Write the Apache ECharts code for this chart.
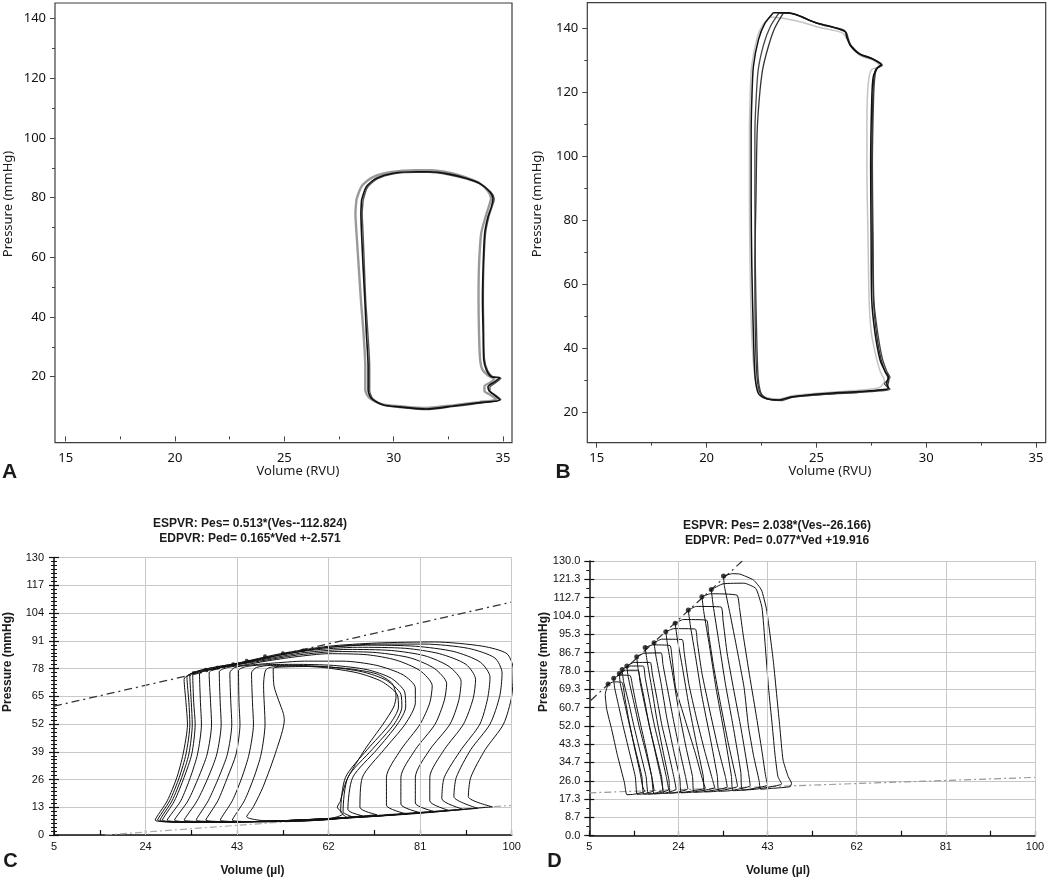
<!DOCTYPE html>
<html>
<head>
<meta charset="utf-8">
<script src="https://cdn.jsdelivr.net/npm/echarts@6/dist/echarts.min.js"></script>
<style>
html, body { margin: 0; padding: 0; background: #fff; }
#chart { width: 1050px; height: 879px; }
</style>
</head>
<body>
<div id="chart"></div>
<script>
// ---- panel A: overlapping beats, volume (RVU) vs pressure (mmHg)
const loopA1 = [[28.53,79.2],[28.75,83.7],[29.21,86.5],[29.97,88.2],[31.04,88.7],[31.65,88.7],[32.56,87.9],[33.32,86.5],[33.93,84.8],[34.39,82.0],[34.54,79.8],[34.47,77.0],[34.31,73.6],[34.16,68.0],[34.09,56.9],[34.06,45.7],[34.09,34.5],[34.12,25.6],[34.24,22.2],[34.47,20.0],[34.85,19.7],[34.62,18.3],[34.31,16.6],[34.36,15.3],[34.54,14.2],[34.85,12.2],[33.93,11.3],[32.71,10.2],[31.5,9.2],[30.28,9.9],[29.52,10.5],[28.98,12.7],[28.83,15.5],[28.83,23.4],[28.75,34.5],[28.68,45.7],[28.6,56.9],[28.53,68.0],[28.5,74.7],[28.53,79.2]];
const loopA2 = [[28.3,79.5],[28.55,84],[29.05,86.9],[29.9,88.6],[31.0,89.2],[31.7,89.2],[32.6,88.3],[33.3,86.8],[33.9,85],[34.3,82.3],[34.45,79.8],[34.35,77],[34.2,73.6],[34.0,68],[33.9,57],[33.88,46],[33.9,35],[33.95,26],[34.05,22.5],[34.3,20.5],[34.6,19.2],[34.4,18],[34.15,16.8],[34.15,15.2],[34.4,14],[34.7,12.4],[33.9,11.5],[32.7,10.4],[31.5,9.5],[30.3,10.1],[29.5,10.7],[28.9,12.8],[28.7,15.5],[28.7,23.4],[28.62,34.5],[28.5,45.7],[28.4,56.9],[28.3,68],[28.25,74.7],[28.3,79.5]];
const loopA3 = [[28.6,79],[28.8,83.5],[29.25,86.3],[30,88],[31.05,88.5],[31.6,88.5],[32.5,87.7],[33.3,86.3],[33.95,84.6],[34.45,81.8],[34.6,79.6],[34.5,77],[34.35,73.6],[34.2,68],[34.12,57],[34.1,46],[34.12,35],[34.15,26],[34.3,22],[34.55,19.9],[34.9,19.5],[34.7,18.2],[34.4,16.4],[34.4,15.2],[34.6,14.1],[34.9,12.3],[34,11.2],[32.7,10],[31.5,9],[30.3,9.7],[29.6,10.4],[29.05,12.6],[28.9,15.5],[28.9,23.4],[28.82,34.5],[28.72,45.7],[28.66,56.9],[28.6,68],[28.56,74.7],[28.6,79]];

// ---- panel B
const loopB1 = [[23.04,144.9],[23.73,144.9],[24.33,143.6],[24.94,141.8],[25.7,140.5],[26.31,139.0],[26.38,137.4],[26.53,134.8],[26.91,132.2],[27.52,130.6],[27.97,128.6],[27.82,128.0],[27.59,124.9],[27.52,117.6],[27.47,96.8],[27.49,76.0],[27.52,55.2],[27.67,44.8],[27.9,36.4],[28.13,32.8],[28.28,31.2],[28.2,29.2],[28.28,27.6],[27.82,27.1],[26.91,26.6],[25.39,26.0],[23.88,25.0],[23.27,24.0],[22.66,24.5],[22.36,26.0],[22.21,31.2],[22.13,44.8],[22.06,65.6],[22.03,86.4],[22.03,107.2],[22.06,117.6],[22.13,128.0],[22.36,136.4],[22.66,141.6],[23.04,144.9]];
const loopB2 = [[23.3,144.8],[23.9,144.6],[24.5,143],[25.1,141.5],[25.8,140.3],[26.3,139.2],[26.4,137],[26.6,134.5],[27,132],[27.6,130.4],[28.0,128.5],[27.75,127.5],[27.65,124],[27.6,117],[27.55,97],[27.58,76],[27.62,55],[27.8,44.5],[28.0,37],[28.2,33],[28.35,31],[28.1,29],[28.35,27.3],[27.9,26.8],[26.9,26.3],[25.4,25.7],[23.9,24.8],[23.4,23.8],[22.8,24.2],[22.5,25.8],[22.35,31],[22.28,45],[22.22,66],[22.2,87],[22.2,107],[22.25,117],[22.35,127],[22.6,135],[22.9,140.5],[23.3,144.8]];
const loopB3 = [[22.9,143.5],[23.6,143],[24.3,142],[25,140.5],[25.7,139.5],[26.2,138.5],[26.4,136.5],[26.6,134],[27,131.5],[27.6,130],[27.9,128.2],[27.5,127],[27.35,122],[27.3,110],[27.3,96],[27.35,75],[27.4,55],[27.5,45],[27.7,38],[27.9,33],[28.1,30],[27.9,28],[27.4,27.3],[26.9,27],[25.4,26.3],[23.9,25.3],[23.3,24.3],[22.7,24.8],[22.4,26.5],[22.2,31],[22.05,45],[21.98,66],[21.95,87],[21.95,107],[21.98,118],[22.05,128],[22.3,137],[22.55,141],[22.9,143.5]];
const loopB4 = [[23.5,144.8],[24.1,144.3],[24.7,142.5],[25.3,141],[25.9,140],[26.35,138.8],[26.45,136.8],[26.6,134.2],[27,131.8],[27.6,130.2],[27.95,128.4],[27.7,127.2],[27.6,123],[27.55,113],[27.52,96],[27.55,76],[27.6,55],[27.75,44],[27.95,36.5],[28.15,32.5],[28.3,30.2],[28.25,28.5],[28.3,27.5],[27.85,27],[26.9,26.4],[25.4,25.8],[23.9,24.9],[23.35,23.9],[22.75,24.4],[22.45,26],[22.3,31],[22.22,45],[22.2,66],[22.25,87],[22.3,107],[22.4,118],[22.55,127],[22.8,134],[23.1,140],[23.5,144.8]];

const abXTicks = [15, 20, 25, 30, 35];
const abXMinor = [17.5, 22.5, 27.5, 32.5];
const abYTicks = [20, 40, 60, 80, 100, 120, 140];
const abYMinor = [30, 50, 70, 90, 110, 130];

// ---- panel C: occlusion run, volume (µl) vs pressure (mmHg)
const loopC1 = [[96,13.2],[91,18],[91.5,27],[94.5,40],[98.3,52],[100,65],[100.3,78],[99,85],[94,88.5],[84,90.5],[72,90],[62,88.5],[52,85],[43,80.5],[35,77],[32,73],[32.4,62],[32.7,52],[31.8,38],[30.5,27],[28.5,16],[26,7],[32,6],[50,6.5],[68,8.5],[84,11],[96,13.2]];
const loopC2 = [[93,12.5],[88,18],[88.5,27],[91.5,40],[95.5,52],[97.5,65],[98,76],[96.5,83],[91,87.5],[82,89.5],[72,89.5],[62,88],[52,84.5],[43,80.5],[36,77.5],[32.6,74],[33,62],[33.2,52],[32.4,38],[31,27],[29,16],[26.5,7],[33,6],[50,6.5],[68,8.5],[82,10.5],[93,12.5]];
const loopC3 = [[90,12],[85.5,17],[86,27],[89.5,40],[93.4,52],[95,64],[95.5,74],[93.5,81],[88,86],[80,88.5],[70,89],[60,87.5],[51,84],[43,80],[36.5,77],[33.2,74.5],[33.5,62],[33.7,52],[33,38],[31.5,27],[29.5,16],[27,7],[34,6],[50,6.5],[66,8],[80,10],[90,12]];
const loopC4 = [[87,11.5],[83,16],[83,27],[86,40],[90,52],[92,64],[92.5,73],[90.5,80],[85,85],[78,87.5],[68,88],[58,86.5],[50,83.5],[43,80],[37,77.5],[33.8,75],[34,62],[34.3,52],[33.6,38],[32,27],[30,16],[27.5,7],[35,6],[50,6.5],[65,8],[78,10],[87,11.5]];
const loopC5 = [[84,11],[80,15],[80,27],[83,40],[87.2,52],[89,63],[89.5,72],[87,79],[82,84],[75,86.5],[66,87],[57,85.5],[49,82.5],[43,80],[38.5,78],[35.2,75.5],[35.4,62],[35.6,52],[34.8,38],[33.3,27],[31.3,16],[28.5,7],[36,6],[50,6.5],[64,7.8],[76,9.5],[84,11]];
const loopC6 = [[81,10.5],[77,14.5],[77,27],[80,40],[84.1,52],[86,63],[86.5,71],[84,78],[79,83],[72,85.5],[64,86],[56,84.5],[49,82],[43,79.8],[39.5,78.5],[37.2,76],[37.5,62],[37.7,52],[36.8,38],[35,27],[32.8,16],[30,7],[38,6],[50,6.5],[63,7.8],[74,9.2],[81,10.5]];
const loopC7 = [[78,10],[74,14],[74,27],[77,40],[81,52],[83,62],[83.5,70],[81,77],[76,82],[70,84.5],[62,85],[55,83.5],[49,81.5],[44,79.5],[41,78.5],[39.3,76.5],[39.5,62],[39.7,52],[38.8,38],[37,27],[34.7,16],[32,7],[40,6.2],[52,6.5],[63,7.6],[72,8.8],[78,10]];
const loopC8 = [[72,9.5],[68.5,13],[69,27],[73.5,40],[77.9,52],[80,62],[80,69],[77.5,75],[72,79.5],[65,81.5],[57,81.5],[50,80.5],[45,79.5],[42.5,78.5],[41.5,76],[41.7,62],[41.9,52],[41,38],[39.2,27],[37,16],[34.5,7],[42,6.2],[52,6.5],[62,7.5],[72,9.5]];
const loopC9 = [[69,9],[66,12],[67,27],[72,40],[76.3,52],[78,60],[77.8,67],[75,73.5],[70,77.5],[63,79.5],[55,80],[49,79.8],[45,79],[43.3,77],[43.4,62],[43.6,52],[42.8,38],[41,27],[39,16],[36.5,7],[44,6.2],[54,6.5],[62,7.3],[69,9]];
const loopC10 = [[67,8.5],[65,11],[66,27],[71,40],[75.6,52],[77.2,60],[77,66],[74,72.5],[69,76.5],[62,78.8],[55,79.5],[50,79.5],[47,78.5],[46,76],[46.2,62],[46.4,52],[45.5,38],[44,27],[42,16],[39.5,7],[46,6.2],[55,6.5],[62,7.3],[67,8.5]];
const loopC11 = [[66,8],[64.5,11],[65.5,27],[70,40],[74.7,52],[76.5,60],[76.2,66],[73,72],[68,76],[61,78.5],[55,79.2],[51,79],[49,77.5],[48.5,70],[48.8,52],[48,38],[46.5,27],[44.5,16],[42,7],[48,6.2],[56,6.5],[62,7.2],[66,8]];
const loopC12 = [[64.4,15.6],[65.8,26],[69.5,40],[73.3,52],[75.5,60],[76,65],[75.2,71],[72,75.5],[66,78],[59,79],[53,78.8],[50.5,78],[50.7,69.5],[52.6,57],[52.8,54],[51.2,40],[48.4,22.6],[46.4,13.3],[45,8.6],[50,6.5],[57,6.6],[62,7.5],[65,10],[63.8,13],[64.4,15.6]];
const loopsC = [loopC1, loopC2, loopC3, loopC4, loopC5, loopC6, loopC7, loopC8, loopC9, loopC10, loopC11, loopC12];
const espvrC = [[5, 60.4], [100, 109.2]];
const edpvrC = [[15.6, 0], [100, 13.9]];
const esDotsC = [[34,76],[36.5,77.5],[39,78.5],[42.2,80],[45,81.7],[48.8,83.8],[52.5,85.2],[56.7,86.5]];

// ---- panel D
const loopD1 = [[9.0,71.8],[10.2,72.8],[12,72.5],[12.6,65],[13.4,55],[14.6,42],[15.8,30],[16.4,23],[16.8,21],[14.5,19.6],[13,19.4],[12.5,25],[11,38],[9.8,50],[8.7,60],[8.4,67],[9.0,71.8]];
const loopD2 = [[10.2,74.5],[11.5,76],[13.7,75.8],[14.2,71],[15,62],[16,52],[17.2,40],[18.3,28],[18.8,21.4],[16.5,19.8],[15.2,19.6],[14.8,28],[13.5,40],[12.2,52],[11.2,62],[10.4,70],[10.2,74.5]];
const loopD3 = [[11.4,76.8],[12.7,78.3],[15.4,78.3],[15.8,73],[16.8,62],[17.8,52],[19,40],[20.2,28],[20.7,21.6],[18.5,19.9],[16.6,19.6],[16.2,28],[14.9,40],[13.6,52],[12.6,62],[11.6,72],[11.4,76.8]];
const loopD4 = [[12.0,78.7],[13.4,80.3],[16.5,80.3],[16.9,75],[17.9,63],[18.9,52],[20.2,40],[21.4,28],[21.9,21.8],[19.5,20],[17.6,19.7],[17.1,28],[15.8,40],[14.5,52],[13.5,62],[12.3,73],[12.0,78.7]];
const loopD5 = [[13,80.3],[14.5,82],[18,82],[18.4,77],[19.5,64],[20.5,52],[21.8,40],[23,28],[23.5,22],[21,20.1],[18.8,19.8],[18.3,28],[17,40],[15.6,52],[14.5,63],[13.3,75],[13,80.3]];
const loopD6 = [[15.1,84.7],[16.6,86.3],[20.3,86.5],[20.7,81],[21.8,68],[23,54],[24.3,40],[25.5,28],[26,22.2],[23,20.3],[20.9,20],[20.4,28],[19.1,40],[17.8,52],[16.6,66],[15.4,79],[15.1,84.7]];
const loopD7 = [[16.9,89.1],[18.5,90.3],[22.2,90],[22.6,85],[23.4,70],[25.4,55],[27.6,39],[29.2,26],[29.7,22.6],[25,20.5],[22.2,20.2],[22,26],[20.8,39],[19.4,55],[18.3,70],[17.3,83],[16.9,89.1]];
const loopD8 = [[18.8,91.3],[20.4,93],[24.8,92.8],[25.2,87],[26.2,72],[27.8,56],[29.6,40],[31.2,27],[31.7,22.8],[27,20.6],[24.6,20.3],[24.3,27],[23,40],[21.5,56],[20.3,72],[19.2,85],[18.8,91.3]];
const loopD9 = [[21.3,96.5],[23,98],[27.6,97.8],[28,92],[29,77],[30.6,60],[32.4,42],[34,28],[34.4,23.1],[29.5,20.8],[27.3,20.5],[27,28],[25.6,42],[24,60],[22.8,76],[21.7,90],[21.3,96.5]];
const loopD10 = [[23.3,100.5],[25,102.3],[30,102],[30.4,96],[31.5,80],[33,62],[34.6,44],[36.2,28],[36.6,23.4],[32,21],[29.6,20.7],[29.3,28],[27.8,44],[26.2,62],[24.9,79],[23.7,94],[23.3,100.5]];
const loopD11 = [[26.1,106.8],[27.8,108.5],[33.1,108.2],[33.5,102],[34.4,86],[35.7,70],[37.4,50],[38.9,30],[39.3,23.7],[35,21.3],[32.6,21],[32.3,28],[30.8,46],[29,66],[27.7,84],[26.5,100],[26.1,106.8]];
const loopD12 = [[29,113.1],[30.8,114.5],[36.5,113.8],[37,108],[37.8,95],[39,78],[40.5,58],[41.8,40],[42.6,28],[43,24],[38,21.6],[35.6,21.3],[35.3,28],[33.8,48],[32,70],[30.6,90],[29.4,106],[29,113.1]];
const loopD13 = [[31,116.5],[33.5,119.2],[38,119.5],[40.5,117],[41.8,108],[42.5,90],[43.2,70],[44,52],[44.6,38],[45.2,28],[46,24.5],[40.5,22],[37.6,21.6],[37.3,30],[35.8,50],[34,72],[32.6,92],[31.4,109],[31,116.5]];
const loopD14 = [[33.6,122.9],[35.5,124],[37.1,123.8],[40,121],[41.7,116.3],[42.8,106.8],[44.2,83.1],[45.6,51.6],[46.3,35.8],[47.4,27.9],[48.1,24.9],[47.8,23.2],[44,22.4],[41.5,22],[41.2,26],[40,38],[38.9,52],[38,70],[36.5,88],[35,105],[33.8,118],[33.6,122.9]];
const loopsD = [loopD1, loopD2, loopD3, loopD4, loopD5, loopD6, loopD7, loopD8, loopD9, loopD10, loopD11, loopD12, loopD13, loopD14];
const espvrD = [[5.3, 64], [37.6, 130]];
const edpvrD = [[5, 20.3], [100, 27.6]];
const esDotsD = [[9.0,71.8],[10.2,74.5],[11.4,76.8],[12.0,78.7],[13.0,80.3],[15.1,84.7],[16.9,89.1],[18.8,91.3],[21.3,96.5],[23.3,100.5],[26.1,106.8],[29.0,113.1],[31.0,116.5],[33.6,122.9]];

const cdXLabels = [5, 24, 43, 62, 81, 100];
const cdXTicks = [5, 14.5, 24, 33.5, 43, 52.5, 62, 71.5, 81, 90.5, 100];
const cdXGrid = [24, 43, 62, 81, 100];
const cYStep = 13;
const dYTicks = [0, 8.667, 17.333, 26, 34.667, 43.333, 52, 60.667, 69.333, 78, 86.667, 95.333, 104, 112.667, 121.333, 130];

const chart = echarts.init(document.getElementById('chart'));

const trace = (data, xi, yi, color, width, z, smooth) => ({
  type: 'line', data, xAxisIndex: xi, yAxisIndex: yi, symbol: 'none', showSymbol: false,
  smooth: smooth == null ? 0.25 : smooth, silent: true, clip: false, z: z || 3, lineStyle: { color, width }
});

const abLabel = { fontFamily: 'Noto Sans', fontSize: 13, color: '#111' };
const cdLabel = { fontFamily: 'Liberation Sans', fontSize: 11, color: '#111' };

// A/B axes: main (labels + major ticks) and a second one for minor ticks
const abXAxis = (grid, min, max) => ([
  { type: 'value', gridIndex: grid, min, max, position: 'bottom',
    axisLine: { show: false }, splitLine: { show: false },
    axisTick: { customValues: abXTicks, length: 5, lineStyle: { color: '#444' } },
    axisLabel: Object.assign({ customValues: abXTicks, margin: 9 }, abLabel) },
  { type: 'value', gridIndex: grid, min, max, position: 'bottom',
    axisLine: { show: false }, splitLine: { show: false }, axisLabel: { show: false },
    axisTick: { customValues: abXMinor, length: 3, lineStyle: { color: '#444' } } }
]);
const abYAxis = (grid, min, max) => ([
  { type: 'value', gridIndex: grid, min, max, position: 'left',
    axisLine: { show: false }, splitLine: { show: false },
    axisTick: { customValues: abYTicks, length: 5, lineStyle: { color: '#444' } },
    axisLabel: Object.assign({ customValues: abYTicks, margin: 9 }, abLabel) },
  { type: 'value', gridIndex: grid, min, max, position: 'left',
    axisLine: { show: false }, splitLine: { show: false }, axisLabel: { show: false },
    axisTick: { customValues: abYMinor, length: 3, lineStyle: { color: '#444' } } }
]);

const cdXAxis = grid => ({
  type: 'value', gridIndex: grid, min: 5, max: 100, position: 'bottom',
  axisLine: { onZero: false, lineStyle: { color: '#111', width: 1.5 } },
  splitLine: { show: false },
  axisTick: { customValues: cdXTicks, inside: true, length: 5, lineStyle: { color: '#111', width: 1.2 } },
  axisLabel: Object.assign({ customValues: cdXLabels, margin: 6 }, cdLabel)
});

const txt = (x, y, text, font, rot) => ({
  type: 'text', x, y, rotation: rot || 0, silent: true,
  style: { text, font, fill: '#1a1a1a', align: 'center', verticalAlign: 'middle',
    textAlign: 'center', textVerticalAlign: 'middle' }
});

const gridMarks = {
  silent: true, symbol: 'none', label: { show: false },
  lineStyle: { color: '#c8c8c8', type: 'solid', width: 1 },
  data: cdXGrid.map(v => ({ xAxis: v }))
};

const series = [
  trace(loopA2, 0, 0, '#9a9a9a', 2.4, 2),
  trace(loopA3, 0, 0, '#555', 1.4, 3),
  trace(loopA1, 0, 0, '#111', 1.6, 4),
  trace(loopB3, 2, 2, '#c4c4c4', 1.5, 2),
  trace(loopB2, 2, 2, '#444', 1.3, 3),
  trace(loopB4, 2, 2, '#333', 1.3, 3),
  trace(loopB1, 2, 2, '#111', 1.5, 4),
  { type: 'line', data: edpvrC, xAxisIndex: 4, yAxisIndex: 4, symbol: 'none', silent: true, z: 2,
    lineStyle: { color: '#aaa', width: 1.2, type: [7, 3, 2, 3] }, markLine: gridMarks },
  { type: 'line', data: espvrC, xAxisIndex: 4, yAxisIndex: 4, symbol: 'none', silent: true, z: 2,
    lineStyle: { color: '#333', width: 1.3, type: [8, 4, 2, 4] } },
  ...loopsC.map(l => trace(l, 4, 4, '#111', 1, 3)),
  { type: 'scatter', data: esDotsC, xAxisIndex: 4, yAxisIndex: 4, symbolSize: 4, silent: true, z: 4,
    itemStyle: { color: '#111' } },
  { type: 'line', data: edpvrD, xAxisIndex: 5, yAxisIndex: 6, symbol: 'none', silent: true, z: 2,
    lineStyle: { color: '#999', width: 1.2, type: [7, 3, 2, 3] }, markLine: gridMarks },
  { type: 'line', data: espvrD, xAxisIndex: 5, yAxisIndex: 6, symbol: 'none', silent: true, z: 2,
    lineStyle: { color: '#333', width: 1.2, type: [8, 4, 2, 4] } },
  ...loopsD.map(l => trace(l, 5, 6, '#111', 1, 3, 0.15)),
  { type: 'scatter', data: esDotsD, xAxisIndex: 5, yAxisIndex: 6, symbolSize: 5, silent: true, z: 4,
    itemStyle: { color: '#111' } }
];

chart.setOption({
  animation: false,
  backgroundColor: '#fff',
  grid: [
    { left: 55, top: 3, width: 457, height: 439.7, show: true, borderColor: '#3c3c3c', borderWidth: 1.2 },
    { left: 587.3, top: 2.7, width: 458.4, height: 440, show: true, borderColor: '#3c3c3c', borderWidth: 1.2 },
    { left: 54, top: 557.7, width: 457.7, height: 277.3 },
    { left: 589.3, top: 561, width: 445.7, height: 274.7 }
  ],
  xAxis: [
    ...abXAxis(0, 14.51, 35.41),
    ...abXAxis(1, 14.57, 35.44),
    cdXAxis(2),
    cdXAxis(3)
  ],
  yAxis: [
    ...abYAxis(0, -2.12, 145.26),
    ...abYAxis(1, 10.63, 148),
    { type: 'value', gridIndex: 2, min: 0, max: 130, interval: cYStep, position: 'left',
      axisLine: { lineStyle: { color: '#111', width: 1.5 } },
      splitLine: { lineStyle: { color: '#c8c8c8', width: 1 } },
      axisTick: { length: 5, lineStyle: { color: '#111', width: 1.2 } },
      minorTick: { show: true, splitNumber: 7, length: 3, lineStyle: { color: '#111' } },
      axisLabel: Object.assign({ margin: 10 }, cdLabel) },
    { type: 'value', gridIndex: 2, min: 0, max: 130, interval: cYStep, position: 'left',
      axisLine: { show: false }, splitLine: { show: false }, axisLabel: { show: false },
      axisTick: { inside: true, length: 5, lineStyle: { color: '#111', width: 1.2 } },
      minorTick: { show: true, splitNumber: 7, length: 3, lineStyle: { color: '#111' } } },
    { type: 'value', gridIndex: 3, min: 0, max: 130, interval: 130 / 15, position: 'left',
      axisLine: { lineStyle: { color: '#111', width: 1.5 } },
      splitLine: { lineStyle: { color: '#c8c8c8', width: 1 } },
      axisTick: { customValues: dYTicks, length: 5, lineStyle: { color: '#111', width: 1.2 } },
      minorTick: { show: true, splitNumber: 2, length: 3, lineStyle: { color: '#111' } },
      axisLabel: Object.assign({ customValues: dYTicks, margin: 9, formatter: v => v.toFixed(1) }, cdLabel) },
    { type: 'value', gridIndex: 3, min: 0, max: 130, position: 'left',
      axisLine: { show: false }, splitLine: { show: false }, axisLabel: { show: false },
      axisTick: { customValues: dYTicks, inside: true, length: 5, lineStyle: { color: '#111', width: 1.2 } } }
  ],
  graphic: [
    txt(9.5, 472.5, 'A', 'bold 21px "Liberation Sans"'),
    txt(563, 472.5, 'B', 'bold 21px "Liberation Sans"'),
    txt(10.5, 861.5, 'C', 'bold 20px "Liberation Sans"'),
    txt(554.5, 861.5, 'D', 'bold 20px "Liberation Sans"'),
    txt(298, 471.5, 'Volume (RVU)', '13px "Noto Sans"'),
    txt(830, 471.5, 'Volume (RVU)', '13px "Noto Sans"'),
    txt(8.5, 204, 'Pressure (mmHg)', '13px "Noto Sans"', Math.PI / 2),
    txt(537.5, 204, 'Pressure (mmHg)', '13px "Noto Sans"', Math.PI / 2),
    txt(250, 524, 'ESPVR: Pes= 0.513*(Ves--112.824)', 'bold 12px "Liberation Sans"'),
    txt(250, 539, 'EDPVR: Ped= 0.165*Ved +-2.571', 'bold 12px "Liberation Sans"'),
    txt(777, 526, 'ESPVR: Pes= 2.038*(Ves--26.166)', 'bold 12px "Liberation Sans"'),
    txt(777, 541, 'EDPVR: Ped= 0.077*Ved +19.916', 'bold 12px "Liberation Sans"'),
    txt(8, 662, 'Pressure (mmHg)', 'bold 12px "Liberation Sans"', Math.PI / 2),
    txt(543.5, 662, 'Pressure (mmHg)', 'bold 12px "Liberation Sans"', Math.PI / 2),
    txt(252.5, 870.5, 'Volume (µl)', 'bold 12px "Liberation Sans"'),
    txt(778, 870.5, 'Volume (µl)', 'bold 12px "Liberation Sans"')
  ],
  series
});
</script>
</body>
</html>
